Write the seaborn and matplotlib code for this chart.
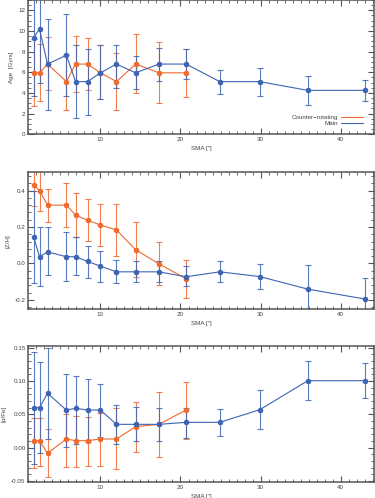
import matplotlib
matplotlib.use('Agg')
import numpy as np
import pandas as pd
import matplotlib.pyplot as plt
import seaborn as sns
from matplotlib.ticker import MultipleLocator, FormatStrFormatter
from matplotlib.lines import Line2D

sns.set_style('ticks')
plt.rcParams['font.family'] = ['Liberation Sans', 'DejaVu Sans']
plt.rcParams['axes.unicode_minus'] = False

# SMA of the bins (arcsec)
sma_main = [1.66, 2.4, 3.4, 5.75, 6.9, 8.4, 10.0, 12.0, 14.4, 17.3, 20.7, 24.9, 29.9, 35.9, 43.0]
sma_counter = sma_main[:11]

# Age [Gyrs]
age_main = [9.35, 10.2, 6.8, 7.65, 5.1, 5.1, 5.95, 6.8, 5.95, 6.8, 6.8, 5.1, 5.1, 4.25, 4.25]
age_main_lo = [3.7, 5.0, 2.35, 3.7, 1.55, 1.85, 3.4, 4.45, 4.35, 5.2, 5.35, 3.9, 3.7, 2.85, 3.25]
age_main_hi = [14.0, 14.0, 11.2, 11.6, 8.65, 8.3, 8.65, 8.65, 7.55, 8.4, 8.25, 6.25, 6.45, 5.65, 5.3]
age_cr = [5.95, 5.95, 6.8, 5.1, 6.8, 6.8, 5.95, 5.1, 6.8, 5.95, 5.95]
age_cr_lo = [2.75, 3.25, 4.3, 2.35, 4.05, 4.3, 3.4, 2.35, 4.0, 3.0, 3.65]
age_cr_hi = [9.2, 8.75, 9.4, 7.7, 9.5, 9.3, 8.6, 7.85, 9.7, 8.9, 8.25]

# [Z/H]
zh_main = [0.147, 0.037, 0.063, 0.037, 0.037, 0.011, -0.015, -0.046, -0.046, -0.046, -0.073, -0.046, -0.072, -0.141, -0.195]
zh_main_lo = [-0.108, -0.123, -0.066, -0.099, -0.066, -0.08, -0.103, -0.108, -0.103, -0.10, -0.125, -0.103, -0.14, -0.3, -0.3]
zh_main_hi = [0.40, 0.198, 0.198, 0.171, 0.143, 0.097, 0.066, 0.017, 0.016, 0.013, -0.016, 0.013, -0.005, -0.009, -0.079]
zh_cr = [0.43, 0.40, 0.32, 0.32, 0.265, 0.237, 0.211, 0.184, 0.075, -0.002, -0.084]
zh_cr_lo = [0.315, 0.29, 0.226, 0.198, 0.143, 0.121, 0.097, 0.042, -0.075, -0.121, -0.19]
zh_cr_hi = [0.56, 0.55, 0.41, 0.44, 0.386, 0.355, 0.325, 0.327, 0.228, 0.116, 0.019]

# [alpha/Fe]
afe_main = [0.060, 0.060, 0.0815, 0.0565, 0.059, 0.0565, 0.0565, 0.035, 0.035, 0.035, 0.038, 0.038, 0.057, 0.1005, 0.1005]
afe_main_lo = [-0.024, -0.008, 0.0135, 0.0005, 0.005, 0.008, 0.0165, 0.0055, 0.010, 0.010, 0.015, 0.018, 0.0275, 0.071, 0.074]
afe_main_hi = [0.144, 0.128, 0.150, 0.110, 0.1075, 0.1025, 0.095, 0.064, 0.0605, 0.059, 0.059, 0.0575, 0.086, 0.1295, 0.1265]
afe_cr = [0.0105, 0.0105, -0.0085, 0.013, 0.0105, 0.0105, 0.013, 0.013, 0.0315, 0.035, 0.0565]
afe_cr_lo = [-0.031, -0.0275, -0.0445, -0.0295, -0.029, -0.028, -0.0275, -0.032, -0.006, -0.0145, 0.0125]
afe_cr_hi = [0.045, 0.044, 0.0285, 0.05, 0.047, 0.046, 0.052, 0.059, 0.069, 0.084, 0.099]

ORANGE = '#EE6A2E'
BLUE = '#3E64B4'
GREY = '#555555'

panels = [
    dict(main=(age_main, age_main_lo, age_main_hi), cr=(age_cr, age_cr_lo, age_cr_hi),
         ylabel='Age  [Gyrs]', ylim=(0, 13), major=2, minor=0.5, fmt='%d',
         rect=[0.0755, 0.7303, 0.9227, 0.2697]),
    dict(main=(zh_main, zh_main_lo, zh_main_hi), cr=(zh_cr, zh_cr_lo, zh_cr_hi),
         ylabel='[Z/H]', ylim=(-0.25, 0.5), major=0.2, minor=0.04, fmt='%.1f',
         rect=[0.0755, 0.3795, 0.9227, 0.2745]),
    dict(main=(afe_main, afe_main_lo, afe_main_hi), cr=(afe_cr, afe_cr_lo, afe_cr_hi),
         ylabel='[α/Fe]', ylim=(-0.052, 0.153), major=0.05, minor=0.01, fmt='%.2f',
         rect=[0.0755, 0.0315, 0.9227, 0.2743]),
]

fig = plt.figure(figsize=(3.75, 4.98), dpi=100)

for p in panels:
    ax = fig.add_axes(p['rect'])
    for sma, (val, lo, hi), col in [(sma_counter, p['cr'], ORANGE), (sma_main, p['main'], BLUE)]:
        val = np.array(val)
        yerr = [val - np.array(lo), np.array(hi) - val]
        ax.errorbar(sma, val, yerr=yerr, fmt='none', ecolor=col, elinewidth=0.8,
                    capsize=2, capthick=0.8, alpha=0.85, zorder=2)
        df = pd.DataFrame({'sma': sma, 'val': val})
        sns.lineplot(data=df, x='sma', y='val', ax=ax, color=col, marker='o', markersize=4,
                     markeredgewidth=0, linewidth=0.8, sort=False, errorbar=None, zorder=3)

    ax.set_xlim(1.0, 44.2)
    ax.set_ylim(*p['ylim'])
    ax.xaxis.set_major_locator(MultipleLocator(10))
    ax.xaxis.set_minor_locator(MultipleLocator(1))
    ax.yaxis.set_major_locator(MultipleLocator(p['major']))
    ax.yaxis.set_minor_locator(MultipleLocator(p['minor']))
    ax.yaxis.set_major_formatter(FormatStrFormatter(p['fmt']))
    ax.tick_params(which='both', direction='in', top=True, right=True, colors=GREY,
                   labelsize=4.5, labelcolor='#444444', pad=2)
    ax.tick_params(which='major', length=4, width=0.8)
    ax.tick_params(which='minor', length=2, width=0.6)
    for s in ax.spines.values():
        s.set_color(GREY)
        s.set_linewidth(1.1)
    ax.set_xlabel('SMA ["]', fontsize=4.5, color='#444444', labelpad=3)
    ax.set_ylabel(p['ylabel'], fontsize=4.5, color='#444444', labelpad=3)

    if p is panels[0]:
        handles = [Line2D([], [], color=ORANGE, lw=0.8), Line2D([], [], color=BLUE, lw=0.8)]
        ax.legend(handles, ['Counter\u2212rotating', 'Main'], loc='center right',
                  bbox_to_anchor=(0.975, 0.105), frameon=False, markerfirst=False,
                  fontsize=4.5, handlelength=3.4, handletextpad=0.6, labelspacing=0.15,
                  labelcolor='#444444', borderpad=0)

fig.savefig('out.png', dpi=100)
